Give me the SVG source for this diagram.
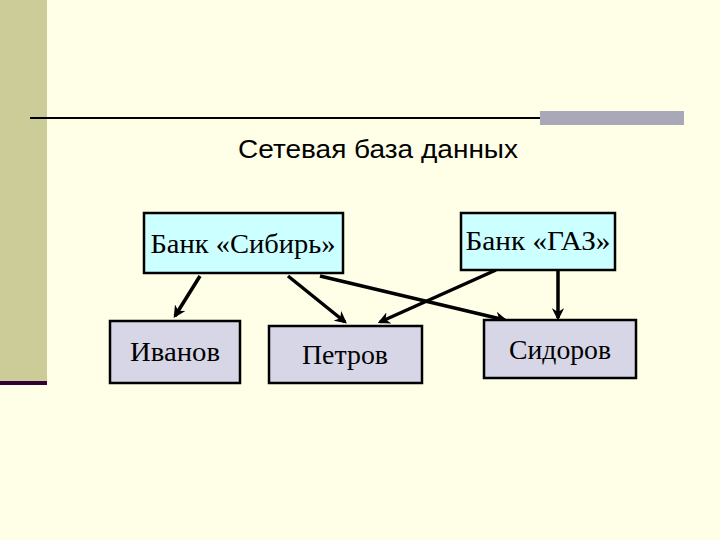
<svg xmlns="http://www.w3.org/2000/svg" width="720" height="540" viewBox="0 0 720 540">
<style>
.n{stroke:#000;stroke-width:2.5}
.t{font-family:"Liberation Serif",serif;font-size:28px;text-anchor:middle}
.c line{stroke:#000;stroke-width:3.5;marker-end:url(#a)}
</style>
<defs><marker id="a" viewBox="0 0 10 10" refX="8" refY="5" markerWidth="3.5" markerHeight="3.5" orient="auto"><path d="M0,0L10,5L0,10L3,5z" fill="#000"/></marker></defs>
<rect width="720" height="540" fill="#ffffe8"/>
<rect width="47" height="382" fill="#cccc99"/>
<rect y="381" width="47" height="4" fill="#330033"/>
<line x1="30" y1="118" x2="540" y2="118" stroke="#000" stroke-width="2"/>
<rect x="540" y="111" width="144" height="14" fill="#a8a8b8"/>
<text x="378" y="158" font-family="Liberation Sans,sans-serif" font-size="25" text-anchor="middle" textLength="280" lengthAdjust="spacingAndGlyphs">Сетевая база данных</text>
<g class="c">
<line x1="200" y1="276" x2="175" y2="316"/>
<line x1="288" y1="276" x2="345" y2="322"/>
<line x1="320" y1="276" x2="505" y2="320"/>
<line x1="496" y1="270" x2="380" y2="322"/>
<line x1="558" y1="270" x2="558" y2="318"/>
</g>
<g id="sibir"><rect class="n" x="144" y="213" width="199" height="60" fill="#ccffff"/><text class="t" x="243" y="253" textLength="185" lengthAdjust="spacingAndGlyphs">Банк «Сибирь»</text></g>
<g id="gaz"><rect class="n" x="461" y="213" width="154" height="57" fill="#ccffff"/><text class="t" x="538" y="250" textLength="145" lengthAdjust="spacingAndGlyphs">Банк «ГАЗ»</text></g>
<g id="ivanov"><rect class="n" x="110" y="321" width="130" height="62" fill="#d6d6e6"/><text class="t" x="175" y="361" textLength="90" lengthAdjust="spacingAndGlyphs">Иванов</text></g>
<g id="petrov"><rect class="n" x="269" y="326" width="153" height="57" fill="#d6d6e6"/><text class="t" x="345" y="364" textLength="86" lengthAdjust="spacingAndGlyphs">Петров</text></g>
<g id="sidorov"><rect class="n" x="484" y="320" width="152" height="58" fill="#d6d6e6"/><text class="t" x="560" y="359" textLength="102" lengthAdjust="spacingAndGlyphs">Сидоров</text></g>
</svg>
